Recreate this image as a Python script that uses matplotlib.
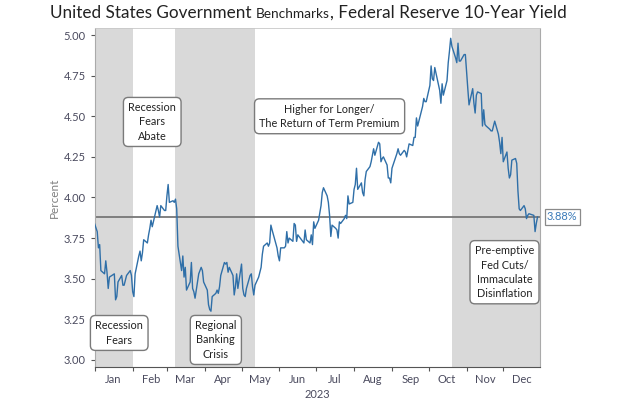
import numpy as np
import pandas as pd
import matplotlib
matplotlib.use("Agg")
import matplotlib.pyplot as plt
import matplotlib.dates as mdates

# --- data: daily 10-year yield, 2023 (first point is 30 Dec 2022) ---
start_date = "2022-12-30"
start_val = 3.88

jan_days = [3, 4, 5, 6, 9, 10, 11, 12, 13, 17, 18, 19, 20, 23, 24, 25, 26, 27, 30, 31]
jan_vals = [3.79, 3.69, 3.71, 3.55, 3.53, 3.61, 3.54, 3.44, 3.51, 3.53, 3.37, 3.39, 3.48, 3.52, 3.46, 3.46, 3.49, 3.52, 3.55, 3.52]
feb_days = [1, 2, 3, 6, 7, 8, 9, 10, 13, 14, 15, 16, 17, 21, 22, 23, 24, 27, 28]
feb_vals = [3.42, 3.39, 3.53, 3.64, 3.67, 3.61, 3.66, 3.74, 3.72, 3.77, 3.81, 3.86, 3.82, 3.95, 3.92, 3.88, 3.95, 3.92, 3.92]
mar_days = [1, 2, 3, 6, 7, 8, 9, 10, 13, 14, 15, 16, 17, 20, 21, 22, 23, 24, 27, 28, 29, 30, 31]
mar_vals = [4.01, 4.08, 3.97, 3.98, 3.97, 3.99, 3.93, 3.70, 3.55, 3.64, 3.51, 3.57, 3.43, 3.48, 3.60, 3.44, 3.42, 3.38, 3.53, 3.55, 3.57, 3.55, 3.48]
apr_days = [3, 4, 5, 6, 7, 10, 11, 12, 13, 14, 17, 18, 19, 20, 21, 24, 25, 26, 27, 28]
apr_vals = [3.43, 3.34, 3.31, 3.30, 3.39, 3.41, 3.43, 3.41, 3.45, 3.52, 3.60, 3.59, 3.60, 3.54, 3.57, 3.52, 3.40, 3.45, 3.53, 3.44]
may_days = [1, 2, 3, 4, 5, 8, 9, 10, 11, 12, 15, 16, 17, 18, 19, 22, 23, 24, 25, 26, 30, 31]
may_vals = [3.59, 3.44, 3.40, 3.39, 3.44, 3.52, 3.53, 3.45, 3.40, 3.46, 3.51, 3.54, 3.57, 3.65, 3.70, 3.72, 3.70, 3.72, 3.83, 3.80, 3.69, 3.64]
jun_days = [1, 2, 5, 6, 7, 8, 9, 12, 13, 14, 15, 16, 20, 21, 22, 23, 26, 27, 28, 29, 30]
jun_vals = [3.61, 3.69, 3.69, 3.70, 3.79, 3.72, 3.75, 3.73, 3.84, 3.83, 3.73, 3.77, 3.73, 3.72, 3.80, 3.74, 3.72, 3.77, 3.71, 3.85, 3.81]
jul_days = [3, 5, 6, 7, 10, 11, 12, 13, 14, 17, 18, 19, 20, 21, 24, 25, 26, 27, 28, 31]
jul_vals = [3.86, 3.95, 4.03, 4.06, 4.01, 3.97, 3.89, 3.76, 3.83, 3.81, 3.80, 3.75, 3.85, 3.84, 3.87, 3.89, 3.87, 4.01, 3.96, 3.97]
aug_days = [1, 2, 3, 4, 7, 8, 9, 10, 11, 14, 15, 16, 17, 18, 21, 22, 23, 24, 25, 28, 29, 30, 31]
aug_vals = [4.05, 4.08, 4.18, 4.05, 4.09, 4.03, 4.01, 4.11, 4.16, 4.19, 4.22, 4.26, 4.30, 4.26, 4.34, 4.33, 4.22, 4.24, 4.25, 4.20, 4.12, 4.12, 4.09]
sep_days = [1, 5, 6, 7, 8, 11, 12, 13, 14, 15, 18, 19, 20, 21, 22, 25, 26, 27, 28, 29]
sep_vals = [4.18, 4.27, 4.30, 4.27, 4.26, 4.29, 4.28, 4.25, 4.29, 4.33, 4.32, 4.37, 4.37, 4.49, 4.44, 4.53, 4.56, 4.61, 4.59, 4.59]
oct_days = [2, 3, 4, 5, 6, 10, 11, 12, 13, 16, 17, 18, 19, 20, 23, 24, 25, 26, 27, 30, 31]
oct_vals = [4.69, 4.81, 4.73, 4.72, 4.80, 4.66, 4.58, 4.70, 4.63, 4.72, 4.83, 4.90, 4.98, 4.93, 4.86, 4.83, 4.95, 4.84, 4.84, 4.88, 4.88]
nov_days = [1, 2, 3, 6, 7, 8, 9, 10, 13, 14, 15, 16, 17, 20, 21, 22, 24, 27, 28, 29, 30]
nov_vals = [4.77, 4.67, 4.57, 4.67, 4.58, 4.52, 4.63, 4.65, 4.64, 4.44, 4.54, 4.45, 4.44, 4.42, 4.41, 4.41, 4.47, 4.39, 4.34, 4.27, 4.37]
dec_days = [1, 4, 5, 6, 7, 8, 11, 12, 13, 14, 15, 18, 19, 20, 21, 22, 26, 27, 28, 29]
dec_vals = [4.22, 4.28, 4.18, 4.12, 4.14, 4.23, 4.24, 4.21, 4.04, 3.93, 3.92, 3.95, 3.93, 3.87, 3.89, 3.90, 3.89, 3.79, 3.84, 3.88]

ref_level = 3.88

# shaded regimes (start, end)
regimes = [("2023-01-01", "2023-02-01"),
           ("2023-03-08", "2023-05-12"),
           ("2023-10-20", "2023-12-31")]

# annotation boxes: (text, date, value)
notes = [("Recession\nFears", "2023-01-21", 3.166),
         ("Recession\nFears\nAbate", "2023-02-17", 4.465),
         ("Regional\nBanking\nCrisis", "2023-04-10", 3.123),
         ("Higher for Longer/\nThe Return of Term Premium", "2023-07-12", 4.50),
         ("Pre-emptive\nFed Cuts/\nImmaculate\nDisinflation", "2023-12-02", 3.54)]

month_labels = ["Jan", "Feb", "Mar", "Apr", "May", "Jun",
                "Jul", "Aug", "Sep", "Oct", "Nov", "Dec"]

# --- assemble series ---
month_days = [jan_days, feb_days, mar_days, apr_days, may_days, jun_days,
              jul_days, aug_days, sep_days, oct_days, nov_days, dec_days]
month_vals = [jan_vals, feb_vals, mar_vals, apr_vals, may_vals, jun_vals,
              jul_vals, aug_vals, sep_vals, oct_vals, nov_vals, dec_vals]
dates = [pd.Timestamp(start_date)]
vals = [start_val]
for m, (dd, vv) in enumerate(zip(month_days, month_vals), start=1):
    dates += [pd.Timestamp(2023, m, d) for d in dd]
    vals += vv

plt.rcParams['font.family'] = ['Lato', 'DejaVu Sans']

fig = plt.figure(figsize=(6.36, 4.01), dpi=100)
ax = fig.add_axes([0.149, 0.085, 0.700, 0.845])

for s, e in regimes:
    ax.axvspan(pd.Timestamp(s), pd.Timestamp(e), color='#d9d9d9', lw=0, zorder=0)

ax.axhline(ref_level, color='#777777', lw=1.3, zorder=2)
ax.plot(dates, vals, color='#2f6fa8', lw=1.0, zorder=3)

ax.set_xlim(pd.Timestamp("2023-01-01"), pd.Timestamp("2023-12-31"))
ax.set_ylim(2.957, 5.043)
ax.set_yticks(np.arange(3.0, 5.01, 0.25))
ax.yaxis.set_major_formatter(plt.FormatStrFormatter('%.2f'))

# month boundaries as ticks, labels at mid-month
ax.xaxis.set_major_locator(mdates.MonthLocator())
ax.xaxis.set_major_formatter(plt.NullFormatter())
ax.xaxis.set_minor_locator(mdates.MonthLocator(bymonthday=16))
ax.xaxis.set_minor_formatter(plt.FixedFormatter(month_labels))
ax.tick_params(axis='x', which='major', length=3, color='#555555', width=0.8)
ax.tick_params(axis='x', which='minor', length=0, labelsize=8, labelcolor='#4a4a5e', pad=5)
ax.tick_params(axis='y', length=3, color='#555555', width=0.8, labelsize=8, labelcolor='#4a4a5e')

for side in ['left', 'right']:
    ax.spines[side].set_color('#aaaaaa')
    ax.spines[side].set_linestyle((0, (1, 1)))
    ax.spines[side].set_linewidth(0.8)
ax.spines['top'].set_color('#c8c8c8')
ax.spines['top'].set_linewidth(0.6)
ax.spines['bottom'].set_color('#555555')
ax.spines['bottom'].set_linewidth(0.8)

ax.set_xlabel("2023", fontsize=8, color='#4a4a5e', labelpad=3)
ax.set_ylabel("Percent", fontsize=8.5, color='#808080', labelpad=3)

box = dict(boxstyle='round,pad=0.45,rounding_size=0.45', facecolor='white',
           edgecolor='#7a7a7a', linewidth=1.0)
for txt, d, v in notes:
    ax.text(pd.Timestamp(d), v, txt, ha='center', va='center', fontsize=7.8,
            color='#222222', linespacing=1.35, bbox=box, zorder=5)

# end value tag
ax.annotate(f"{vals[-1]:.2f}%", xy=(1.0, vals[-1]), xycoords=('axes fraction', 'data'),
            xytext=(5, 0), textcoords='offset points', ha='left', va='center',
            fontsize=8, color='#3a7ab8',
            bbox=dict(boxstyle='square,pad=0.2', facecolor='white', edgecolor='#8a8a8a', lw=0.9),
            annotation_clip=False)

# title with the smaller middle word
fig.canvas.draw()
r = fig.canvas.get_renderer()
parts = [("United States Government ", 12.3), ("Benchmarks", 9.8), (", Federal Reserve 10-Year Yield", 12.3)]
pieces = [fig.text(0, 0.956, p, fontsize=s, color='#222222', va='baseline')
          for p, s in parts]
widths = [t.get_window_extent(r).width for t in pieces]
x0 = 50.0
for t, w in zip(pieces, widths):
    t.set_x(x0 / fig.bbox.width)
    x0 += w

fig.savefig("out.png", dpi=100)
